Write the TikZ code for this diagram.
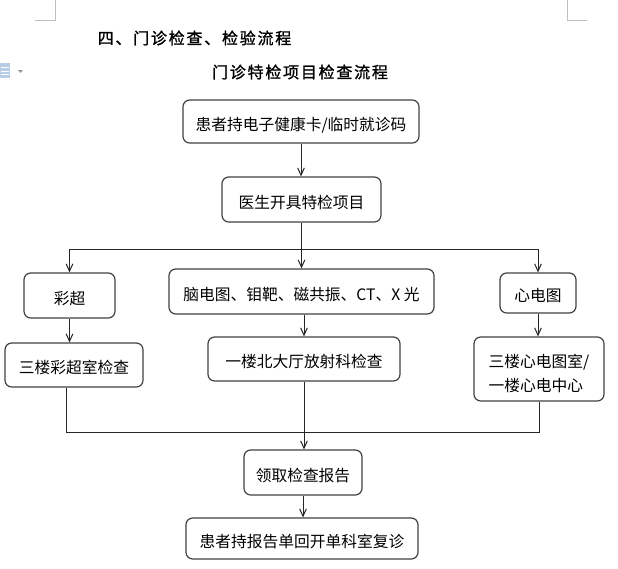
\documentclass[tikz,border=0pt]{standalone}
\usepackage{fontspec}
\setmainfont{Noto Sans CJK SC}
\newfontfamily\titlefont[LetterSpace=11, FakeBold=1.2]{Noto Sans CJK SC}
\usetikzlibrary{arrows.meta}
\definecolor{iconblue}{RGB}{184,204,232}
\tikzset{
  flowbox/.style={draw=black!75, line width=0.9pt, rounded corners=5pt, inner sep=0pt,
    font=\fontsize{11.8pt}{18pt}\selectfont},
  oneline/.style={flowbox, text height=14pt, text depth=1pt},
  boxsize/.style 2 args={minimum width=#1*0.75pt, minimum height=#2*0.75pt},
  flowline/.style={black!85, line width=0.75pt},
  flowarrow/.style={flowline, -{Straight Barb[length=5.5pt,width=5pt]}},
  cornermark/.style={black!25, line width=0.75pt},
  headfont/.style={font=\titlefont\fontsize{12pt}{14pt}\selectfont}
}
\begin{document}
\begin{tikzpicture}[x=0.75pt, y=-0.75pt]
  \useasboundingbox (0,0) rectangle (618,568);
  % page corners and toolbar icon
  \draw[cornermark] (55,0) -- (55,20) -- (35,20);
  \draw[cornermark] (567,0) -- (567,20) -- (587,20);
  \fill[iconblue] (0,63) rectangle (10,78);
  \draw[white, line width=0.75pt] (1,67.5) -- (9,67.5) (1,71) -- (9,71) (1,74.5) -- (9,74.5);
  \fill[black!40] (18,70) -- (23,70) -- (20.5,73) -- cycle;
  \node[headfont, anchor=west] (heading) at (93,38) {四、门诊检查、检验流程};
  \node[headfont] (title) at (300,72) {门诊特检项目检查流程};
  % boxes
  \node[oneline, boxsize={236}{43}] (card) at (301,121.5) {患者持电子健康卡/临时就诊码};
  \node[oneline, boxsize={159}{45}] (order) at (301.5,199.5) {医生开具特检项目};
  \node[oneline, boxsize={91}{45}] (us) at (69.5,295.5) {彩超};
  \node[oneline, boxsize={265}{45}] (rad) at (301.5,291.5) {脑电图、钼靶、磁共振、CT、X 光};
  \node[oneline, boxsize={76}{40}] (ecg) at (538,293) {心电图};
  \node[oneline, boxsize={138}{44}] (usroom) at (74,365) {三楼彩超室检查};
  \node[oneline, boxsize={192}{44}] (radroom) at (304,359) {一楼北大厅放射科检查};
  \node[flowbox, boxsize={130}{64}, align=left] (ecgroom) at (539,369) {\rule{0pt}{17pt}三楼心电图室/\\一楼心电中心};
  \node[oneline, boxsize={118}{45}] (report) at (303,472.5) {领取检查报告};
  \node[oneline, boxsize={232}{41}] (revisit) at (302,538.5) {患者持报告单回开单科室复诊};
  % connectors
  \coordinate (split) at (302,249);
  \coordinate (merge) at (304,432);
  \draw[flowarrow] (card.south) -- (card.south |- order.north);
  \draw[flowline] (order.south) -- (order.south |- split);
  \draw[flowarrow] (order.south |- split) -| (us.north);
  \draw[flowarrow] (order.south |- split) -| (ecg.north);
  \draw[flowarrow] (order.south |- split) -- (order.south |- rad.north);
  \draw[flowarrow] (us.south) -- (us.south |- usroom.north);
  \draw[flowarrow] (radroom.north |- rad.south) -- (radroom.north);
  \draw[flowarrow] (ecg.south) -- (ecg.south |- ecgroom.north);
  \draw[flowline] ([xshift=-6pt]usroom.south) |- (merge -| ecgroom.south) -- (ecgroom.south);
  \draw[flowarrow] (radroom.south) -- (radroom.south |- report.north);
  \draw[flowarrow] (report.south) -- (report.south |- revisit.north);
\end{tikzpicture}
\end{document}
